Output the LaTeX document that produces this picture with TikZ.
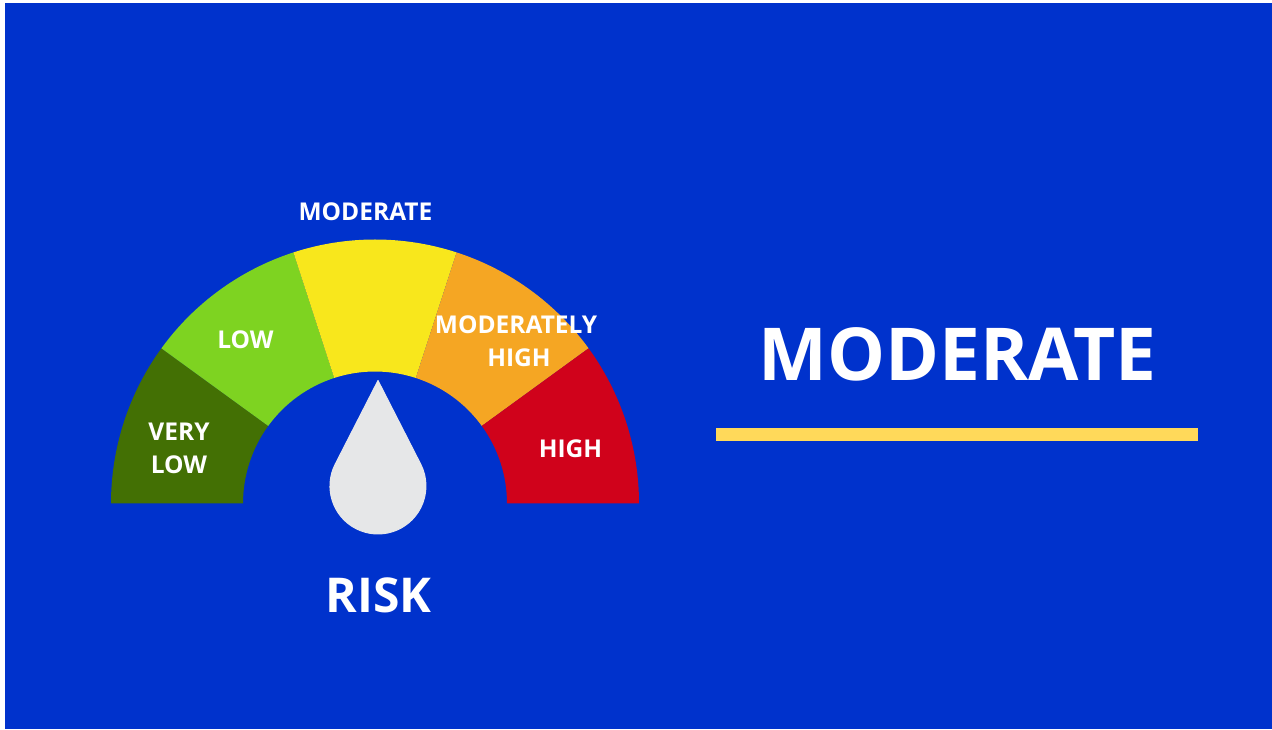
\documentclass[tikz,border=0pt]{standalone}
\usepackage{fontspec}
\setmainfont{Open Sans}
\definecolor{bgblue}{HTML}{0032CC}
\definecolor{vlow}{HTML}{437004}
\definecolor{lowc}{HTML}{7ED321}
\definecolor{modc}{HTML}{F8E71C}
\definecolor{mhigh}{HTML}{F5A623}
\definecolor{highc}{HTML}{D0021B}
\definecolor{barc}{HTML}{FFD95A}
\definecolor{dropc}{HTML}{E6E7E8}
\tikzset{
  sector/.style={line width=0pt},
  lab/.style={text=white,font=\bfseries\fontsize{24.5}{24.5}\selectfont,anchor=base,inner sep=0pt},
  biglab/.style={text=white,font=\bfseries\fontsize{73}{73}\selectfont,anchor=base,inner sep=0pt},
  risklab/.style={text=white,font=\bfseries\fontsize{48}{48}\selectfont,anchor=base,inner sep=0pt}
}
\newcommand{\gaugesector}[3]{%
  \fill[#3,sector] ([shift={(#1:264)}]375,225.5) arc[start angle=#1,end angle=#2,radius=264]
    -- ([shift={(#2:132)}]375,225.5) arc[start angle=#2,end angle=#1,radius=132] -- cycle;}
\begin{document}
\begin{tikzpicture}[x=1pt,y=1pt]
\useasboundingbox (0,0) rectangle (1272,729);
\fill[white] (0,0) rectangle (1272,729);
\fill[bgblue] (5,0) rectangle (1272,726);
\gaugesector{180}{144}{vlow}
\gaugesector{144}{108}{lowc}
\gaugesector{108}{72}{modc}
\gaugesector{72}{36}{mhigh}
\gaugesector{36}{0}{highc}
% needle drop
\fill[dropc,line join=round,draw=dropc,line width=1pt] (378,348.5) -- (335.2,264.8)
  arc[start angle=153,end angle=387,radius=48] -- cycle;
% bar
\fill[barc] (716,288) rectangle (1198,301);
\node[lab] (moderate) at (365.5,508) {MODERATE};
\node[lab] (low) at (245.5,380) {LOW};
\node[lab] (very) at (179,288) {VERY};
\node[lab] (verylow) at (179,255) {LOW};
\node[lab] (mod) at (516,395.3) {MODERATELY};
\node[lab] (modhigh) at (519,362.3) {HIGH};
\node[lab] (high) at (570.5,271.3) {HIGH};
\node[risklab] (risk) at (378.5,117) {RISK};
\node[biglab] (big) at (957.5,348.3) {MODERATE};
\end{tikzpicture}
\end{document}
